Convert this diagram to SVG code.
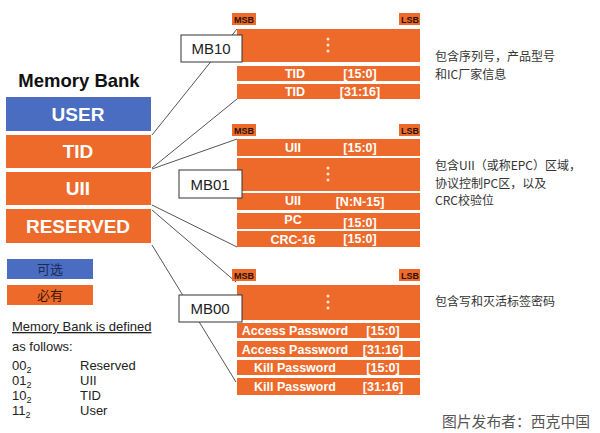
<svg xmlns="http://www.w3.org/2000/svg" width="600" height="433" viewBox="0 0 600 433">
<style>
.o{fill:#ED6A2B}
.b{fill:#4A6DC2}
.bk{font-family:"Liberation Sans",Arial,sans-serif;font-weight:bold;fill:#fff;text-anchor:middle}
.big{font-size:19px}
.row{font-size:12.5px}
.msb{font-family:"Liberation Sans",Arial,sans-serif;font-weight:bold;font-size:9px;fill:#2a1208;text-anchor:middle}
.mb rect{fill:#fff;stroke:#333;stroke-width:1}
.mb text{font-family:"Liberation Sans",Arial,sans-serif;font-size:15px;fill:#222;text-anchor:middle}
.t{font-family:"Liberation Sans",Arial,sans-serif;font-size:13px;fill:#222}
.cn{font-family:"Noto Sans CJK SC","Noto Sans",sans-serif;font-size:12px;fill:#333}
.dot{fill:#fbe3d6}
.conn line{stroke:#555;stroke-width:1}
</style>

<g id="connectors" class="conn">
<line x1="152" y1="135" x2="237" y2="29"/>
<line x1="152" y1="168" x2="237" y2="99"/>
<line x1="152" y1="169" x2="237" y2="139"/>
<line x1="152" y1="205" x2="237" y2="247"/>
<line x1="152" y1="210" x2="236" y2="282"/>
<line x1="152" y1="245" x2="236" y2="382"/>
</g>

<g id="memory-bank">
<text x="79" y="87" font-family="Liberation Sans,Arial,sans-serif" font-weight="bold" font-size="18.5" fill="#111" text-anchor="middle">Memory Bank</text>
<g id="bank-user"><rect class="b" x="6" y="97" width="145" height="34"/><text class="bk big" x="78" y="121">USER</text></g>
<g id="bank-tid"><rect class="o" x="6" y="135" width="145" height="33"/><text class="bk big" x="78" y="158">TID</text></g>
<g id="bank-uii"><rect class="o" x="6" y="172" width="145" height="33"/><text class="bk big" x="78" y="195">UII</text></g>
<g id="bank-reserved"><rect class="o" x="6" y="209" width="145" height="34"/><text class="bk big" x="78" y="233">RESERVED</text></g>
</g>

<g id="legend">
<rect class="b" x="7" y="259" width="86" height="20"/>
<text x="50" y="274" font-family="Noto Sans CJK SC,sans-serif" font-size="13" fill="#1a2a55" text-anchor="middle">可选</text>
<rect class="o" x="7" y="285" width="86" height="20"/>
<text x="50" y="300" font-family="Noto Sans CJK SC,sans-serif" font-size="13" fill="#3a1505" text-anchor="middle">必有</text>
</g>

<g id="definition" class="t">
<text x="12" y="331" text-decoration="underline">Memory Bank<tspan text-decoration="none"> is defined</tspan></text>
<text x="12" y="351">as follows:</text>
<text x="12" y="370">00<tspan font-size="9" dy="3">2</tspan></text><text x="80" y="370">Reserved</text>
<text x="12" y="385">01<tspan font-size="9" dy="3">2</tspan></text><text x="80" y="385">UII</text>
<text x="12" y="400">10<tspan font-size="9" dy="3">2</tspan></text><text x="80" y="400">TID</text>
<text x="12" y="415">11<tspan font-size="9" dy="3">2</tspan></text><text x="80" y="415">User</text>
</g>

<g id="mb10-block">
<rect class="o" x="232" y="13" width="24" height="12"/><text class="msb" x="244" y="22.5">MSB</text>
<rect class="o" x="399" y="13" width="21" height="12"/><text class="msb" x="410" y="22.5">LSB</text>
<rect class="o" x="237" y="29" width="183" height="33"/>
<circle class="dot" cx="328" cy="39" r="1.5"/><circle class="dot" cx="328" cy="45" r="1.5"/><circle class="dot" cx="328" cy="51" r="1.5"/>
<rect class="o" x="237" y="66" width="183" height="15"/>
<text class="bk row" x="295" y="78">TID</text><text class="bk row" x="360" y="78">[15:0]</text>
<rect class="o" x="237" y="84" width="183" height="15"/>
<text class="bk row" x="295" y="96">TID</text><text class="bk row" x="360" y="96">[31:16]</text>
</g>

<g id="mb01-block">
<rect class="o" x="232" y="124" width="24" height="12"/><text class="msb" x="244" y="133.5">MSB</text>
<rect class="o" x="399" y="124" width="21" height="12"/><text class="msb" x="410" y="133.5">LSB</text>
<rect class="o" x="237" y="139" width="183" height="17"/>
<text class="bk row" x="293" y="152">UII</text><text class="bk row" x="360" y="152">[15:0]</text>
<rect class="o" x="237" y="158" width="183" height="33"/>
<circle class="dot" cx="328" cy="168" r="1.5"/><circle class="dot" cx="328" cy="174" r="1.5"/><circle class="dot" cx="328" cy="180" r="1.5"/>
<rect class="o" x="237" y="193" width="183" height="17"/>
<text class="bk row" x="293" y="205">UII</text><text class="bk row" x="360" y="206">[N:N-15]</text>
<rect class="o" x="237" y="213" width="183" height="16"/>
<text class="bk row" x="293" y="224">PC</text><text class="bk row" x="360" y="227">[15:0]</text>
<rect class="o" x="237" y="231" width="183" height="16"/>
<text class="bk row" x="293" y="244">CRC-16</text><text class="bk row" x="360" y="243">[15:0]</text>
</g>

<g id="mb00-block">
<rect class="o" x="232" y="269" width="24" height="12"/><text class="msb" x="244" y="278.5">MSB</text>
<rect class="o" x="399" y="269" width="21" height="12"/><text class="msb" x="410" y="278.5">LSB</text>
<rect class="o" x="237" y="285" width="183" height="35"/>
<circle class="dot" cx="328" cy="296" r="1.5"/><circle class="dot" cx="328" cy="302" r="1.5"/><circle class="dot" cx="328" cy="308" r="1.5"/>
<rect class="o" x="237" y="323" width="183" height="15"/>
<text class="bk row" x="295" y="335">Access Password</text><text class="bk row" x="383" y="335">[15:0]</text>
<rect class="o" x="237" y="341" width="183" height="16"/>
<text class="bk row" x="295" y="354">Access Password</text><text class="bk row" x="383" y="354">[31:16]</text>
<rect class="o" x="237" y="360" width="183" height="15"/>
<text class="bk row" x="295" y="372">Kill Password</text><text class="bk row" x="383" y="372">[15:0]</text>
<rect class="o" x="237" y="378" width="183" height="17"/>
<text class="bk row" x="295" y="391">Kill Password</text><text class="bk row" x="383" y="391">[31:16]</text>
</g>

<g id="mb10" class="mb"><rect x="181" y="35" width="61" height="27"/><text x="211" y="54">MB10</text></g>
<g id="mb01" class="mb"><rect x="179" y="170" width="63" height="28"/><text x="210" y="190">MB01</text></g>
<g id="mb00" class="mb"><rect x="179" y="295" width="63" height="27"/><text x="210" y="314">MB00</text></g>

<g id="notes" class="cn">
<text x="435" y="61">包含序列号，产品型号</text>
<text x="435" y="78.5">和IC厂家信息</text>
<text x="435" y="170">包含UII（或称EPC）区域，</text>
<text x="435" y="187.5">协议控制PC区，以及</text>
<text x="435" y="205">CRC校验位</text>
<text x="435" y="306">包含写和灭活标签密码</text>
</g>

<text x="442" y="427" font-family="Noto Sans CJK SC,sans-serif" font-size="14.8" fill="#555">图片发布者：西克中国</text>
</svg>
